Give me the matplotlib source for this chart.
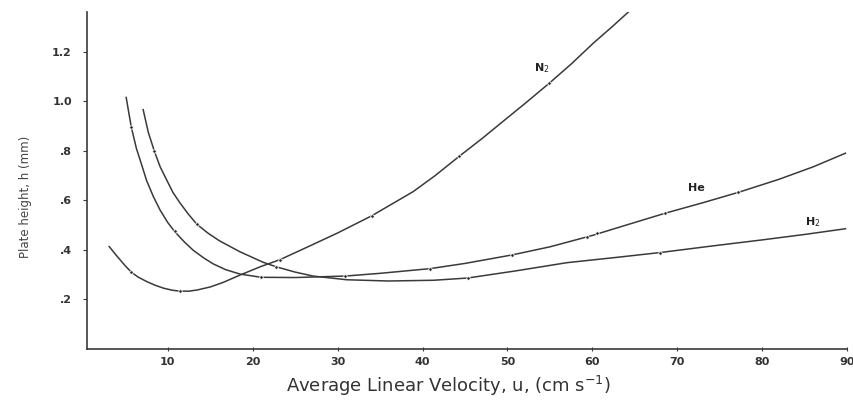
import numpy as np
import matplotlib.pyplot as plt

# curves (velocity in cm/s, plate height in mm)
n2_u = [3.1, 4.0, 5.0, 5.7, 6.5, 7.5, 8.5, 9.5, 10.5, 11.4, 12.5, 13.5, 15.0, 16.5, 18.5, 21.0, 23.2, 27.0, 30.0, 34.0, 38.9, 41.5, 44.3, 47.0, 49.1, 52.0, 54.9, 57.5, 60.1, 62.3, 64.3]
n2_h = [0.413, 0.375, 0.335, 0.31, 0.29, 0.272, 0.257, 0.245, 0.237, 0.233, 0.233, 0.238, 0.25, 0.268, 0.298, 0.333, 0.36, 0.42, 0.468, 0.537, 0.635, 0.70, 0.777, 0.849, 0.908, 0.989, 1.072, 1.15, 1.234, 1.30, 1.362]
n2_mu = [5.7, 11.4, 23.2, 34.0, 44.3, 54.9]
n2_mh = [0.31, 0.233, 0.36, 0.537, 0.777, 1.072]

he_u = [5.1, 5.7, 6.3, 7.0, 7.5, 8.3, 9.1, 10.0, 10.8, 12.0, 13.0, 14.2, 15.3, 16.8, 18.5, 21.0, 25.0, 30.9, 35.0, 40.9, 45.0, 50.5, 55.0, 60.0, 64.0, 68.6, 73.0, 77.2, 82.0, 86.0, 89.8]
he_h = [1.015, 0.896, 0.81, 0.735, 0.68, 0.615, 0.56, 0.51, 0.474, 0.43, 0.398, 0.368, 0.344, 0.32, 0.302, 0.289, 0.288, 0.294, 0.305, 0.324, 0.345, 0.379, 0.412, 0.458, 0.50, 0.548, 0.59, 0.632, 0.685, 0.735, 0.79]
he_mu = [5.7, 10.8, 21.0, 30.9, 40.9, 50.5, 59.4, 60.5, 68.6, 77.2]
he_mh = [0.896, 0.474, 0.289, 0.294, 0.324, 0.379, 0.452, 0.467, 0.548, 0.632]

h2_u = [7.1, 7.7, 8.4, 9.1, 9.9, 10.6, 11.4, 12.4, 13.4, 14.7, 16.1, 18.5, 21.2, 22.8, 25.0, 27.1, 31.1, 36.0, 41.3, 45.3, 51.0, 57.0, 63.0, 68.0, 74.0, 80.0, 85.0, 89.8]
h2_h = [0.966, 0.875, 0.80, 0.735, 0.68, 0.632, 0.591, 0.545, 0.504, 0.468, 0.436, 0.392, 0.35, 0.331, 0.31, 0.294, 0.279, 0.274, 0.277, 0.286, 0.315, 0.348, 0.37, 0.389, 0.415, 0.44, 0.462, 0.485]
h2_mu = [8.4, 13.4, 22.8, 45.3, 68.0]
h2_mh = [0.80, 0.504, 0.331, 0.286, 0.389]

yticks = [0.2, 0.4, 0.6, 0.8, 1.0, 1.2]
ytick_labels = ['.2', '.4', '.6', '.8', '1.0', '1.2']
xticks = [10, 20, 30, 40, 50, 60, 70, 80, 90]

ink = '#3a3a3a'

fig = plt.figure(figsize=(8.54, 4.01), dpi=100)
ax = fig.add_axes([0.102, 0.130, 0.890, 0.840])

for u, h, mu, mh in [(n2_u, n2_h, n2_mu, n2_mh),
                     (he_u, he_h, he_mu, he_mh),
                     (h2_u, h2_h, h2_mu, h2_mh)]:
    ax.plot(u, h, color=ink, lw=1.1, solid_joinstyle='round')
    ax.plot(mu, mh, 'o', color='#222222', ms=2.5, mec='white', mew=0.6)

ax.text(54.0, 1.134, 'N$_2$', fontsize=8, color='#222222', fontweight='bold', ha='center', va='center')
ax.text(72.3, 0.651, 'He', fontsize=8, color='#222222', fontweight='bold', ha='center', va='center')
ax.text(86.0, 0.513, 'H$_2$', fontsize=8, color='#222222', fontweight='bold', ha='center', va='center')

ax.set_xlim(0.5, 90)
ax.set_ylim(0, 1.36)
ax.set_xticks(xticks)
ax.set_yticks(yticks)
ax.set_yticklabels(ytick_labels)
ax.tick_params(axis='both', colors=ink, labelcolor='#333333', labelsize=8, length=3, width=0.8)
ax.tick_params(axis='x', direction='inout', pad=4)
ax.tick_params(axis='y', pad=8)
for lab in ax.get_xticklabels() + ax.get_yticklabels():
    lab.set_fontweight('bold')

for s in ['top', 'right']:
    ax.spines[s].set_visible(False)
for s in ['left', 'bottom']:
    ax.spines[s].set_color(ink)
    ax.spines[s].set_linewidth(1.2)

ax.set_xlabel('Average Linear Velocity, u, (cm s$^{-1}$)', fontsize=13, color='#333333')
ax.xaxis.set_label_coords(0.476, -0.075)
ax.set_ylabel('Plate height, h (mm)', fontsize=8.5, color='#444444')
ax.yaxis.set_label_coords(-0.072, 0.45)

fig.savefig('out.png', dpi=100)
